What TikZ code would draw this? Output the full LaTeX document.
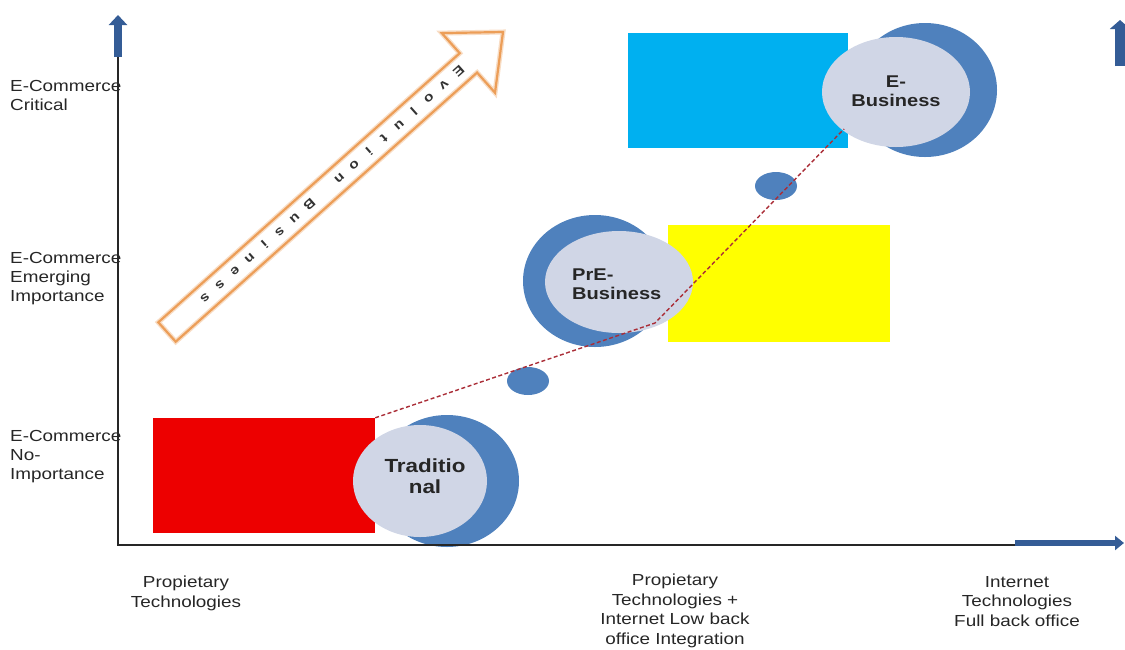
\documentclass[tikz,border=0pt]{standalone}
\usepackage{fontspec}
\setmainfont[FakeStretch=1.18]{Liberation Sans}
\usetikzlibrary{arrows.meta,calc,shapes.geometric}
\definecolor{ringblue}{RGB}{79,129,189}
\definecolor{ellfill}{RGB}{208,214,230}
\definecolor{axblue}{RGB}{52,92,150}
\definecolor{boxred}{RGB}{237,0,0}
\definecolor{boxyellow}{RGB}{255,255,0}
\definecolor{boxcyan}{RGB}{0,176,240}
\definecolor{pathred}{RGB}{170,45,55}
\definecolor{arrorange}{RGB}{236,158,88}
\begin{document}
\begin{tikzpicture}[x=1pt,y=-1pt,
  ylab/.style={font=\fontsize{16}{19}\selectfont, align=left, anchor=north west, inner sep=0pt, text=black!85},
  xlab/.style={font=\fontsize{16}{19.5}\selectfont, align=center, anchor=north, inner sep=0pt, text=black!85},
  boxshape/.style={inner sep=0pt, draw=none},
  lightell/.style={ellipse, fill=ellfill, inner sep=0pt},
  dotell/.style={ellipse, fill=ringblue, inner sep=0pt},
  ctext/.style={font=\bfseries\fontsize{17}{19.5}\selectfont, inner sep=0pt, text=black!85},
  axline/.style={line width=1.4pt, black!85},
  axarrow/.style={axblue, line width=#1},
  trend/.style={pathred, line width=1.4pt, dash pattern=on 4pt off 2.5pt},
  letter/.style={font=\bfseries\fontsize{13}{13}\selectfont, inner sep=0pt, rotate=-138.3, text=black!80}
]
\useasboundingbox (0,0) rectangle (1125,649);
\clip (0,0) rectangle (1125,649);

% ---------- orange evolution arrow ----------
\coordinate (atail) at (167,332);
\coordinate (atip) at (503,32);
\fill[white] (158.3,322.3) -- (459.7,53.2) -- (441.8,33.1) -- (atip) -- (495.0,92.7) -- (477.1,72.6) -- (175.7,341.7) -- cycle;
\draw[arrorange!35, line width=5pt, line join=miter] (158.3,322.3) -- (459.7,53.2) -- (441.8,33.1) -- (atip) -- (495.0,92.7) -- (477.1,72.6) -- (175.7,341.7) -- cycle;
\draw[arrorange, line width=2.2pt, line join=miter] (158.3,322.3) -- (459.7,53.2) -- (441.8,33.1) -- (atip) -- (495.0,92.7) -- (477.1,72.6) -- (175.7,341.7) -- cycle;
\foreach \k/\c in {0/E,1/v,2/o,3/l,4/u,5/t,6/i,7/o,8/n,10/B,11/u,12/s,13/i,14/n,15/e,16/s,17/s}{
  \node[letter] (lt\k) at ($(atail)!{(391-20*\k)/450.4}!(atip)$) {\c};
}

% ---------- Traditional ----------
\node[boxshape, fill=boxred, minimum width=222pt, minimum height=115pt] (redbox) at (264,475.5) {};
\begin{scope}
  \clip (380,400) rectangle (540,560);
  \fill[ringblue] (447,481) ellipse [x radius=72, y radius=66];
\end{scope}
\node[lightell, minimum width=134pt, minimum height=112pt] (trad) at (420,481) {};
\node[ctext, font=\bfseries\fontsize{19}{21}\selectfont, align=center] (tradtxt) at (425,476) {Traditio\\nal};

% ---------- PrE-Business ----------
\node[boxshape, fill=boxyellow, minimum width=222pt, minimum height=117pt] (yelbox) at (779,283.5) {};
\begin{scope}
  \clip (500,200) rectangle (661,360);
  \fill[ringblue] (595,281) ellipse [x radius=72, y radius=66];
\end{scope}
\node[lightell, minimum width=148pt, minimum height=102pt] (preb) at (619,282) {};
\node[ctext, align=left, anchor=west] (prebtxt) at (572,284) {PrE-\\Business};

% ---------- E-Business ----------
\node[boxshape, fill=boxcyan, minimum width=220pt, minimum height=115pt] (cyanbox) at (738,90.5) {};
\begin{scope}
  \clip (853,0) rectangle (1010,170);
  \fill[ringblue] (925,90) ellipse [x radius=72, y radius=67];
\end{scope}
\node[lightell, minimum width=148pt, minimum height=110pt] (ebiz) at (896,92) {};
\node[ctext, align=center] (ebiztxt) at (896,91) {E-\\Business};

% ---------- small dots ----------
\node[dotell, minimum width=42pt, minimum height=28pt] (dot1) at (528,381) {};
\node[dotell, minimum width=42pt, minimum height=28pt] (dot2) at (776,186) {};

% ---------- trend line ----------
\coordinate (bend) at (655,323);
\coordinate (pend) at (844,129);
\draw[trend] (redbox.north east) -- (bend) -- (pend);

% ---------- axis labels ----------
\node[ylab] (yl1) at (10,80) {E-Commerce\\Critical};
\node[ylab] (yl2) at (10,252) {E-Commerce\\Emerging\\Importance};
\node[ylab] (yl3) at (10,430) {E-Commerce\\No-\\Importance};
\node[xlab] (xl1) at (186,576) {Propietary\\Technologies};
\node[xlab] (xl2) at (675,574) {Propietary\\Technologies +\\Internet Low back\\office Integration};
\node[xlab] (xl3) at (1017,576) {Internet\\Technologies\\Full back office};

% ---------- axes ----------
\coordinate (O) at (118,545);
\coordinate (ytop) at (118,56);
\coordinate (xend) at (1118,545);
\draw[axline] (ytop) -- (O) -- (xend);
\coordinate (yas) at (118,57);
\coordinate (yae) at (118,15);
\draw[axarrow=8pt, -{Triangle[width=18pt,length=10pt]}] (yas) -- (yae);
\coordinate (xas) at (1015,543);
\coordinate (xae) at (1124,543);
\draw[axarrow=6pt, -{Triangle[width=14pt,length=9pt]}] (xas) -- (xae);
\coordinate (ras) at (1120,66);
\coordinate (rae) at (1120,20);
\draw[axarrow=10pt, -{Triangle[width=20pt,length=9pt]}] (ras) -- (rae);
\end{tikzpicture}
\end{document}
